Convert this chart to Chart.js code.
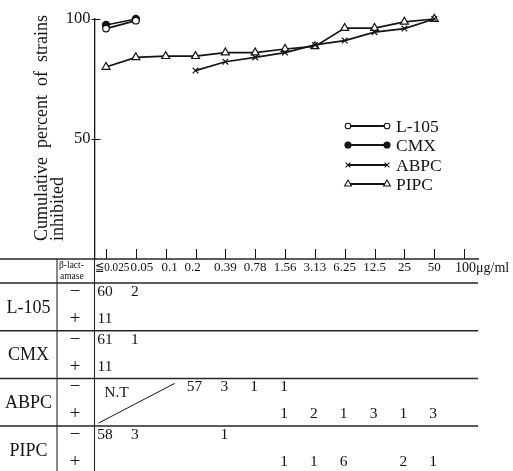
<!DOCTYPE html>
<html>
<head>
<meta charset="utf-8">
<script src="https://cdn.jsdelivr.net/npm/chart.js@4/dist/chart.umd.min.js"></script>
<style>
  html, body { margin: 0; padding: 0; background: #fff; }
</style>
</head>
<body>
<canvas id="micChart" width="513" height="471"></canvas>
<script>
const concLabels = ['≦0.025', '0.05', '0.1', '0.2', '0.39', '0.78', '1.56', '3.13', '6.25', '12.5', '25', '50', '100'];
const unitLabel = 'μg/ml';
const drugNames = ['L-105', 'CMX', 'ABPC', 'PIPC'];

// cumulative percent of strains inhibited
const l105Cum = [96.0, 99.3, null, null, null, null, null, null, null, null, null, null, null];
const cmxCum  = [97.5, 100, null, null, null, null, null, null, null, null, null, null, null];
const abpcCum = [null, null, null, 78.5, 82.2, 84.0, 86.0, 89.2, 91.0, 94.5, 96.0, 100, null];
const pipcCum = [80.0, 84.0, 84.5, 84.5, 86.0, 86.0, 87.5, 88.6, 96.2, 96.2, 98.8, 100, null];

// number of strains at each MIC, beta-lactamase negative / positive
const l105Neg = [60, 2, null, null, null, null, null, null, null, null, null, null, null];
const l105Pos = [11, null, null, null, null, null, null, null, null, null, null, null, null];
const cmxNeg  = [61, 1, null, null, null, null, null, null, null, null, null, null, null];
const cmxPos  = [11, null, null, null, null, null, null, null, null, null, null, null, null];
const abpcNeg = [null, null, null, 57, 3, 1, 1, null, null, null, null, null, null];
const abpcPos = [null, null, null, null, null, null, 1, 2, 1, 3, 1, 3, null];
const pipcNeg = [58, 3, null, null, 1, null, null, null, null, null, null, null, null];
const pipcPos = [null, null, null, null, null, null, 1, 1, 6, null, 2, 1, null];

const ink = '#141414';
const serif = "'Liberation Serif', 'DejaVu Serif', serif";

// the printed header labels sit a little off their ticks at the low end
const headShift = [6, 6, 4, -3, 0, 0, 0, 0, 0, 0, 0, 0, 0];

const toPoints = arr => arr.map((v, i) => ({ x: i, y: v }));

function series(label, values, style, radius, fill) {
    return {
        label: label,
        data: toPoints(values),
        borderColor: ink,
        borderWidth: 1.7,
        pointStyle: style,
        pointRadius: radius,
        pointBackgroundColor: fill,
        pointBorderColor: ink,
        pointBorderWidth: 1.2,
        clip: false,
        tension: 0
    };
}

const tablePlugin = {
    id: 'micTable',
    afterDraw(chart) {
        const ctx = chart.ctx;
        const ca = chart.chartArea;
        const xs = chart.scales.x;
        const ys = chart.scales.y;
        const H = chart.height;

        const line = (x1, y1, x2, y2) => {
            ctx.beginPath();
            ctx.moveTo(x1, y1);
            ctx.lineTo(x2, y2);
            ctx.stroke();
        };

        ctx.save();
        ctx.strokeStyle = ink;
        ctx.fillStyle = ink;

        // tick marks pointing into the plot
        ctx.lineWidth = 1;
        concLabels.forEach((_, i) => {
            const px = Math.round(xs.getPixelForValue(i)) + 0.5;
            line(px, ca.bottom - 10, px, ca.bottom);
        });
        ys.ticks.forEach(t => {
            const py = Math.round(ys.getPixelForValue(t.value)) + 0.5;
            line(ca.left, py, ca.left + 6, py);
        });

        // table grid
        const headerH = 24;
        const rowH = 47.7;
        const top = ca.bottom;
        const rowTops = drugNames.map((_, r) => top + headerH + r * rowH);
        ctx.lineWidth = 1.5;
        ctx.strokeStyle = '#262626';
        line(0, top, ca.right, top);
        rowTops.forEach(y => line(0, y, ca.right - 1, y));
        ctx.lineWidth = 1.1;
        line(57, top, 57, H);
        line(ca.left, top, ca.left, H);

        // header
        ctx.textBaseline = 'middle';
        ctx.textAlign = 'left';
        ctx.font = '9.5px ' + serif;
        ctx.fillText('β-lact-', 59, top + 6);
        ctx.fillText('amase', 60, top + 17);

        const headY = top + 9;
        concLabels.forEach((lab, i) => {
            const px = xs.getPixelForValue(i) + headShift[i];
            if (i === 0) {
                // condensed like the printed label
                ctx.save();
                ctx.font = '13px ' + serif;
                ctx.textAlign = 'center';
                ctx.translate(px, headY);
                ctx.scale(0.86, 1);
                ctx.fillText(lab, 0, 0);
                ctx.restore();
            } else if (i === concLabels.length - 1) {
                ctx.font = '14px ' + serif;
                ctx.textAlign = 'left';
                ctx.fillText(lab + unitLabel, px - 9, headY);
            } else {
                ctx.font = '13px ' + serif;
                ctx.textAlign = 'center';
                ctx.fillText(lab, px, headY);
            }
        });

        // rows
        const negRows = [l105Neg, cmxNeg, abpcNeg, pipcNeg];
        const posRows = [l105Pos, cmxPos, abpcPos, pipcPos];
        drugNames.forEach((name, r) => {
            const rt = rowTops[r];
            ctx.textAlign = 'center';
            ctx.font = '18px ' + serif;
            ctx.fillText(name, 28.5, rt + rowH / 2 + 1);
            ctx.font = '19px ' + serif;
            ctx.fillText('\u2212', 75, rt + 9);
            ctx.fillText('+', 75, rt + 36);
            ctx.font = '15.5px ' + serif;
            negRows[r].forEach((v, i) => {
                if (v !== null) ctx.fillText(String(v), xs.getPixelForValue(i) - 1, rt + 9);
            });
            posRows[r].forEach((v, i) => {
                if (v !== null) ctx.fillText(String(v), xs.getPixelForValue(i) - 1, rt + 36);
            });
        });

        // ABPC not tested at the low concentrations
        const abTop = rowTops[2];
        ctx.font = '15.5px ' + serif;
        ctx.textAlign = 'center';
        ctx.fillText('N.T', xs.getPixelForValue(0.35), abTop + 15);
        ctx.lineWidth = 1;
        ctx.strokeStyle = ink;
        line(ca.left + 4, abTop + rowH - 3, xs.getPixelForValue(2.3), abTop + 5);

        // legend
        const legX1 = 348, legX2 = 387, legText = 396;
        const legY = [126, 145, 165, 184];
        chart.data.datasets.forEach((ds, k) => {
            const yy = legY[k];
            ctx.lineWidth = 1.8;
            ctx.strokeStyle = ink;
            line(legX1, yy, legX2, yy);
            ctx.fillStyle = ds.pointBackgroundColor;
            ctx.lineWidth = 1.1;
            const opts = { pointStyle: ds.pointStyle, radius: ds.pointRadius * 0.85, rotation: 0, borderWidth: 1.1 };
            Chart.helpers.drawPoint(ctx, opts, legX1, yy);
            Chart.helpers.drawPoint(ctx, opts, legX2, yy);
            ctx.fillStyle = ink;
            ctx.font = '17.5px ' + serif;
            ctx.textAlign = 'left';
            ctx.fillText(ds.label, legText, yy + 1);
        });

        ctx.restore();
    }
};

new Chart(document.getElementById('micChart'), {
    type: 'line',
    data: {
        datasets: [
            series('L-105', l105Cum, 'circle', 3.3, '#ffffff'),
            series('CMX', cmxCum, 'circle', 3.6, ink),
            series('ABPC', abpcCum, 'crossRot', 4, ink),
            series('PIPC', pipcCum, 'triangle', 4.6, '#ffffff')
        ]
    },
    options: {
        responsive: false,
        animation: false,
        events: [],
        layout: { padding: { left: 0, top: 19, right: 34, bottom: 212 } },
        plugins: {
            legend: { display: false },
            tooltip: { enabled: false }
        },
        scales: {
            x: {
                type: 'linear',
                min: -0.386,
                max: 12.5,
                display: false
            },
            y: {
                min: 0,
                max: 100,
                afterFit(scale) { scale.width = 94.5; },
                afterBuildTicks(scale) { scale.ticks = [{ value: 50 }, { value: 100 }]; },
                ticks: {
                    color: ink,
                    padding: 1,
                    font: { family: serif, size: 16.5 }
                },
                grid: {
                    drawOnChartArea: false,
                    tickLength: 3,
                    color: ink,
                    lineWidth: 1
                },
                border: { color: ink, width: 1.3 },
                title: {
                    display: true,
                    text: ['    Cumulative  percent  of  strains', '    inhibited'],
                    align: 'start',
                    color: ink,
                    font: { family: serif, size: 18, lineHeight: 0.85 },
                    padding: { top: 35, bottom: 0 }
                }
            }
        }
    },
    plugins: [tablePlugin]
});
</script>
</body>
</html>
